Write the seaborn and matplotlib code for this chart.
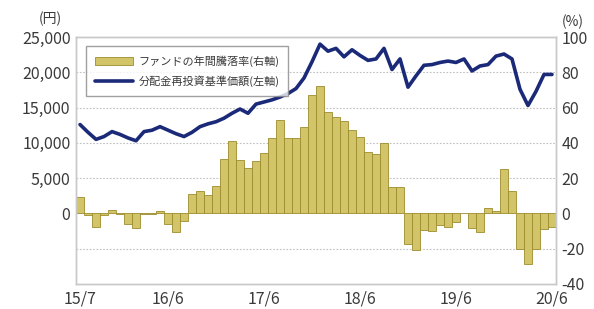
import numpy as np
import matplotlib
matplotlib.use("Agg")
import matplotlib.pyplot as plt
from matplotlib.patches import Patch
from matplotlib.lines import Line2D
import seaborn as sns

# monthly data, 15/7 .. 20/6
months = np.arange(60)
price = [12600, 11500, 10500, 10900, 11600, 11200, 10700, 10300, 11600, 11800,
         12300, 11800, 11300, 10900, 11500, 12300, 12700, 13000, 13500, 14200,
         14800, 14200, 15500, 15800, 16100, 16500, 17000, 17700, 19200, 21500,
         24000, 23000, 23400, 22200, 23200, 22400, 21700, 21900, 23400, 20400,
         21900, 17900, 19500, 21000, 21100, 21400, 21600, 21400, 21900, 20200,
         20900, 21100, 22300, 22600, 21900, 17600, 15300, 17300, 19700, 19700]
annual_ret = [9.5, -1, -7.5, -1, 2, -0.5, -6, -8, -0.5, -0.3,
              1.5, -6, -10.5, -4.5, 11, 12.5, 10.5, 15.5, 31, 41,
              30.5, 26, 29.5, 34, 43, 53, 42.5, 42.5, 49, 67,
              72.5, 57.5, 54.5, 52.5, 47.5, 43.5, 35, 33.5, 40, 15,
              15, -17.5, -20.5, -9.5, -10, -6.5, -7.5, -5, 0.4, -8.5,
              -10.5, 3, 1.5, 25, 12.5, -20, -28.5, -20, -9, -7.5]
xtick_pos = [0, 11, 23, 35, 47, 59]
xtick_labels = ["15/7", "16/6", "17/6", "18/6", "19/6", "20/6"]
bar_label = "ファンドの年間騰落率(右軸)"
line_label = "分配金再投資基準価額(左軸)"

sns.set_style("white")
plt.rcParams['font.family'] = ['Noto Sans CJK JP', 'DejaVu Sans']

bar_color = "#d2c468"
bar_edge = "#9c8c2c"
line_color = "#1b2a78"
spine_col = "#c8c8c8"
text_col = "#3a3a3a"

fig = plt.figure(figsize=(5.94, 3.09), dpi=100)
ax = fig.add_axes([0.128, 0.081, 0.808, 0.799])   # line, left axis
ax2 = ax.twinx()                                  # bars, right axis

sns.barplot(x=months, y=annual_ret, ax=ax2, color=bar_color, width=1.0,
            edgecolor=bar_edge, linewidth=0.6, saturation=1)
sns.lineplot(x=months, y=price, ax=ax, color=line_color, linewidth=2.6)

ax.set_zorder(ax2.get_zorder() + 1)
ax.patch.set_visible(False)

ax.set_xlim(-0.5, 59.5)
ax2.set_xlim(-0.5, 59.5)
ax.set_ylim(-10000, 25000)
ax2.set_ylim(-40, 100)
ax.set_yticks(range(0, 25001, 5000))
ax.set_yticklabels([f"{v:,}" for v in range(0, 25001, 5000)])
ax2.set_yticks(range(-40, 101, 20))
ax2.set_yticklabels([str(v) for v in range(-40, 101, 20)])
ax.set_xticks(xtick_pos)
ax.set_xticklabels(xtick_labels)
ax.set_xlabel("")
ax.set_ylabel("")
ax2.set_xlabel("")
ax2.set_ylabel("")

for y in [-20, 20, 40, 60, 80]:
    ax2.axhline(y, color="#c0c0c0", lw=0.8, ls=(0, (1.5, 1.5)), zorder=0)

for a in (ax, ax2):
    for s in a.spines.values():
        s.set_color(spine_col)
        s.set_linewidth(1.0)
    a.tick_params(colors=text_col, labelsize=11.5, length=0, pad=4)
ax.tick_params(axis="x", direction="in", length=4, color="#aaaaaa", pad=5)
ax2.tick_params(axis="x", length=0, labelbottom=False)

fig.text(0.065, 0.94, "(円)", fontsize=10, color=text_col, ha="left", va="center")
fig.text(0.945, 0.93, "(%)", fontsize=10, color=text_col, ha="left", va="center")

handles = [Patch(facecolor=bar_color, edgecolor=bar_edge, linewidth=0.6),
           Line2D([0], [0], color=line_color, lw=2.6)]
leg = ax.legend(handles, [bar_label, line_label], loc="upper left",
                bbox_to_anchor=(0.01, 0.985), fontsize=8, frameon=True,
                fancybox=False, edgecolor="#888888", handlelength=3.4,
                borderpad=0.8, labelspacing=0.8, handletextpad=0.5)
leg.get_frame().set_linewidth(1.0)
for t in leg.get_texts():
    t.set_color(text_col)

fig.savefig("out.png", dpi=100)
